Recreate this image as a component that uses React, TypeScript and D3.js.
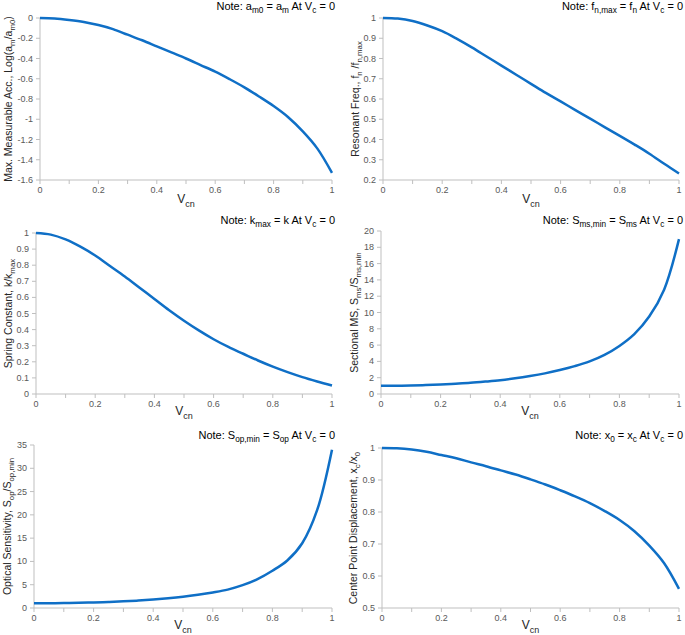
import * as d3 from 'd3';

// shared x values (normalised voltage V_cn)
const vcn = [0, 0.05, 0.1, 0.15, 0.2, 0.25, 0.3, 0.35, 0.4, 0.45, 0.5, 0.55, 0.6, 0.65, 0.7, 0.75, 0.8, 0.85, 0.9, 0.95, 1];

const logAcc = [0, -0.005, -0.02, -0.04, -0.07, -0.11, -0.165, -0.22, -0.28, -0.34, -0.4, -0.465, -0.53, -0.605, -0.685, -0.775, -0.87, -0.98, -1.12, -1.29, -1.53];
const resFreq = [1, 0.997, 0.985, 0.963, 0.935, 0.897, 0.855, 0.81, 0.765, 0.72, 0.675, 0.63, 0.588, 0.545, 0.503, 0.46, 0.418, 0.375, 0.33, 0.28, 0.232];
const springK = [1, 0.99, 0.96, 0.915, 0.86, 0.795, 0.73, 0.66, 0.59, 0.52, 0.455, 0.395, 0.34, 0.292, 0.25, 0.208, 0.17, 0.136, 0.105, 0.078, 0.053];
const sectMS = [1, 1.01, 1.04, 1.09, 1.16, 1.26, 1.37, 1.52, 1.69, 1.92, 2.2, 2.53, 2.94, 3.42, 4.0, 4.8, 5.9, 7.35, 9.5, 12.8, 19.0];
const optSens = [1, 1.02, 1.06, 1.12, 1.19, 1.3, 1.43, 1.6, 1.82, 2.1, 2.44, 2.86, 3.35, 3.95, 4.9, 6.2, 8.0, 10.2, 13.9, 21.0, 34.0];
const centerDisp = [1, 0.999, 0.995, 0.988, 0.978, 0.968, 0.955, 0.943, 0.93, 0.917, 0.902, 0.886, 0.868, 0.849, 0.828, 0.803, 0.775, 0.74, 0.695, 0.64, 0.56];

const xTicks = [0, 0.2, 0.4, 0.6, 0.8, 1];
const xMinorTicks = d3.range(0, 1.0001, 0.1);

type Part = [string, boolean?];

const FONT = '"Liberation Sans", Arial, sans-serif';
const BLUE = '#0f6fc6';
const AXIS = '#bfbfbf';

function Rich({ parts, size }: { parts: Part[]; size: number }) {
  const sub = size * 0.75;
  const shift = size * 0.3;
  let down = false;
  return (
    <>
      {parts.map(([t, s], i) => {
        let dy = 0;
        if (s && !down) { dy = shift; down = true; }
        else if (!s && down) { dy = -shift; down = false; }
        return (
          <tspan key={i} dy={dy || undefined} fontSize={s ? sub : size}>{t}</tspan>
        );
      })}
    </>
  );
}

interface PanelProps {
  values: number[];
  yDomain: [number, number];
  yStep: number;
  box: { x0: number; x1: number; top: number; bottom: number };
  yLabel: Part[];
  yLabelX: number;
  note: Part[];
  noteX: number;
  noteY: number;
  xLabelY: number;
}

function Panel({ values, yDomain, yStep, box, yLabel, yLabelX, note, noteX, noteY, xLabelY }: PanelProps) {
  const x = d3.scaleLinear().domain([0, 1]).range([box.x0, box.x1]);
  const y = d3.scaleLinear().domain(yDomain).range([box.bottom, box.top]);
  const yTicks = d3.range(yDomain[0], yDomain[1] + yStep / 2, yStep);
  const line = d3.line<number>()
    .x((_, i) => x(vcn[i]))
    .y(d => y(d))
    .curve(d3.curveCatmullRom.alpha(0.5));
  const fmt = (v: number) => String(+v.toFixed(2));
  const midY = (box.top + box.bottom) / 2;
  const midX = (box.x0 + box.x1) / 2;

  return (
    <g fontFamily={FONT}>
      {/* axes */}
      <line x1={box.x0} x2={box.x0} y1={box.top} y2={box.bottom} stroke={AXIS} />
      <line x1={box.x0} x2={box.x1} y1={box.bottom} y2={box.bottom} stroke={AXIS} />
      {yTicks.map(t => (
        <g key={'y' + t}>
          <line x1={box.x0 - 4} x2={box.x0} y1={y(t)} y2={y(t)} stroke={AXIS} />
          <text x={box.x0 - 7} y={y(t) + 3} textAnchor="end" fontSize={9} fill="#595959">{fmt(t)}</text>
        </g>
      ))}
      {xMinorTicks.map(t => (
        <line key={'xm' + t} x1={x(t)} x2={x(t)} y1={box.bottom} y2={box.bottom + 4} stroke={AXIS} />
      ))}
      {xTicks.map(t => (
        <text key={'x' + t} x={x(t)} y={box.bottom + 13} textAnchor="middle" fontSize={9} fill="#595959">{fmt(t)}</text>
      ))}
      {/* curve */}
      <path d={line(values) ?? ''} fill="none" stroke={BLUE} strokeWidth={2.5} />
      {/* labels */}
      <text transform={`translate(${yLabelX},${midY}) rotate(-90)`} textAnchor="middle" fill="#262626">
        <Rich parts={yLabel} size={10.5} />
      </text>
      <text x={midX} y={xLabelY} textAnchor="middle" fill="#262626">
        <Rich parts={[['V'], ['cn', true]]} size={12} />
      </text>
      <text x={noteX} y={noteY} textAnchor="end" fill="#000">
        <Rich parts={note} size={11} />
      </text>
    </g>
  );
}

export default function App() {
  return (
    <svg width={685} height={635} style={{ position: 'absolute', left: 0, top: 0, background: '#fff' }}>
      <Panel
        values={logAcc} yDomain={[-1.6, 0]} yStep={0.2}
        box={{ x0: 40, x1: 332, top: 18, bottom: 180 }}
        yLabel={[['Max. Measurable Acc., Log(a'], ['m', true], ['/a'], ['m0', true], [')']]} yLabelX={12}
        note={[['Note: a'], ['m0', true], [' = a'], ['m', true], [' At V'], ['c', true], [' = 0']]} noteX={335} noteY={10}
        xLabelY={203}
      />
      <Panel
        values={resFreq} yDomain={[0.2, 1]} yStep={0.1}
        box={{ x0: 383, x1: 679, top: 18, bottom: 180 }}
        yLabel={[['Resonant Freq., f'], ['n', true], [' /f'], ['n,max', true]]} yLabelX={359}
        note={[['Note: f'], ['n,max', true], [' = f'], ['n', true], [' At V'], ['c', true], [' = 0']]} noteX={683} noteY={10}
        xLabelY={203}
      />
      <Panel
        values={springK} yDomain={[0, 1]} yStep={0.1}
        box={{ x0: 36, x1: 332, top: 233, bottom: 394 }}
        yLabel={[['Spring Constant, k/k'], ['max', true]]} yLabelX={12}
        note={[['Note: k'], ['max', true], [' = k At V'], ['c', true], [' = 0']]} noteX={335} noteY={224}
        xLabelY={415}
      />
      <Panel
        values={sectMS} yDomain={[0, 20]} yStep={2}
        box={{ x0: 381, x1: 679, top: 231, bottom: 394 }}
        yLabel={[['Sectional MS, S'], ['ms', true], ['/S'], ['ms,min', true]]} yLabelX={358}
        note={[['Note: S'], ['ms,min', true], [' = S'], ['ms', true], [' At V'], ['c', true], [' = 0']]} noteX={683} noteY={224}
        xLabelY={415}
      />
      <Panel
        values={optSens} yDomain={[0, 35]} yStep={5}
        box={{ x0: 34, x1: 332, top: 445, bottom: 608 }}
        yLabel={[['Optical Sensitivity, S'], ['op', true], ['/S'], ['op,min', true]]} yLabelX={11}
        note={[['Note: S'], ['op,min', true], [' = S'], ['op', true], [' At V'], ['c', true], [' = 0']]} noteX={335} noteY={439}
        xLabelY={629}
      />
      <Panel
        values={centerDisp} yDomain={[0.5, 1]} yStep={0.1}
        box={{ x0: 382, x1: 679, top: 448, bottom: 608 }}
        yLabel={[['Center Point Displacement, x'], ['c', true], ['/x'], ['0', true]]} yLabelX={357}
        note={[['Note: x'], ['0', true], [' = x'], ['c', true], [' At V'], ['c', true], [' = 0']]} noteX={683} noteY={439}
        xLabelY={629}
      />
    </svg>
  );
}
